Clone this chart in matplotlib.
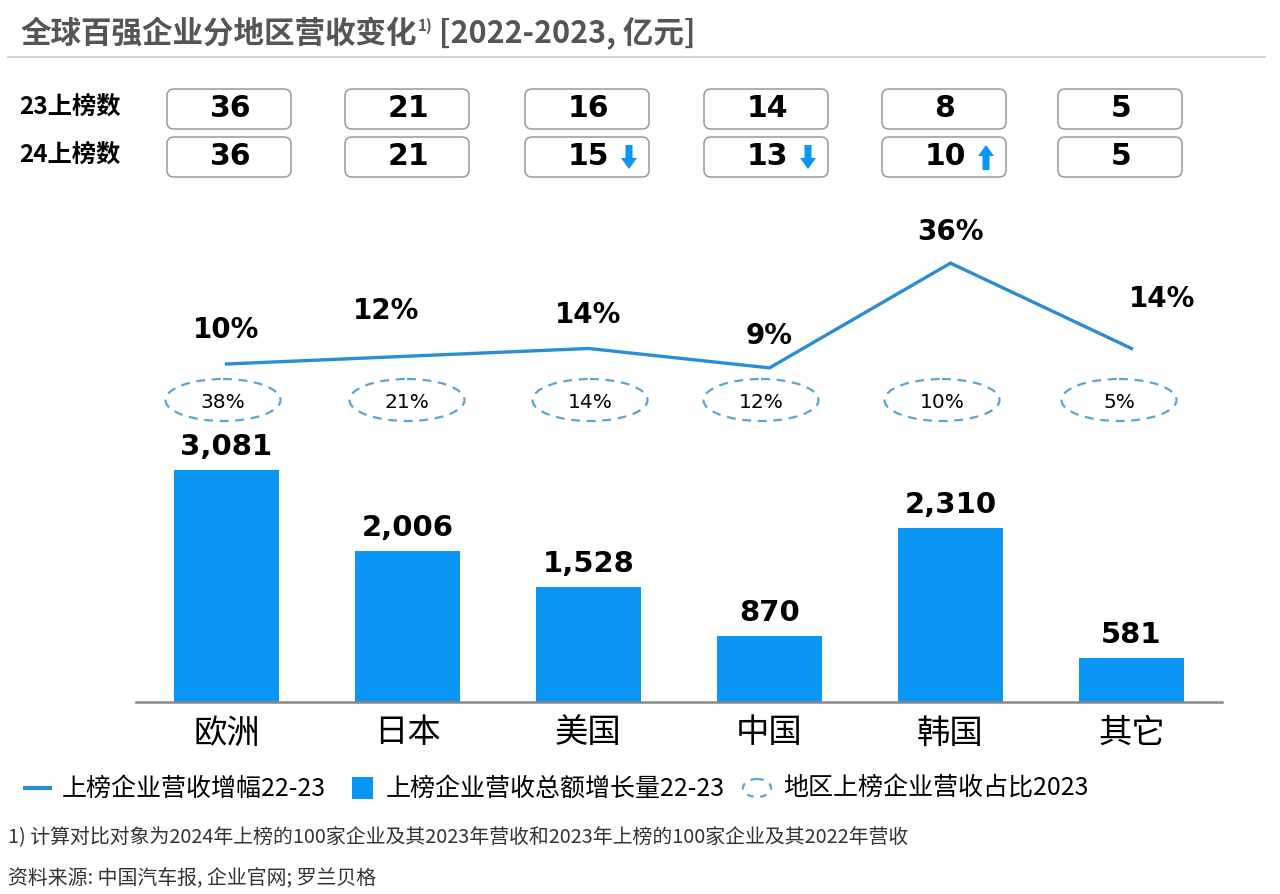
import matplotlib
matplotlib.use("Agg")
import matplotlib.pyplot as plt
from matplotlib.patches import Ellipse, FancyBboxPatch, FancyArrow, Rectangle

plt.rcParams['font.family'] = ['Noto Sans CJK SC', 'DejaVu Sans']

# data
regions = ['欧洲', '日本', '美国', '中国', '韩国', '其它']
listed_23 = [36, 21, 16, 14, 8, 5]
listed_24 = [36, 21, 15, 13, 10, 5]
growth_pct = [10, 12, 14, 9, 36, 14]
revenue_increase = [3081, 2006, 1528, 870, 2310, 581]
share_2023 = [38, 21, 14, 12, 10, 5]

bar_color = '#0A96F5'
line_color = '#2B8DD6'
dash_color = '#5AA6D3'
W, H = 1280, 895

fig = plt.figure(figsize=(12.8, 8.95), dpi=100)

# overlay axes in pixel units (y down)
ov = fig.add_axes([0, 0, 1, 1], zorder=0)
ov.set_xlim(0, W)
ov.set_ylim(H, 0)
ov.axis('off')

def fig_rect(x0, y0, x1, y1):
    return [x0 / W, (H - y1) / H, (x1 - x0) / W, (y1 - y0) / H]

# bars
ax = fig.add_axes(fig_rect(136, 420, 1222, 703), zorder=2)
ax.patch.set_alpha(0)
x = list(range(len(regions)))
bars = ax.bar(x, revenue_increase, width=0.585, color=bar_color)
ax.set_xlim(-0.5, 5.5)
ax.set_ylim(0, 3758)
for s in ['top', 'right', 'left']:
    ax.spines[s].set_visible(False)
ax.spines['bottom'].set_color('#888888')
ax.spines['bottom'].set_linewidth(1.8)
ax.set_yticks([])
ax.set_xticks(x)
ax.set_xticklabels(regions, fontsize=24)
ax.tick_params(axis='x', length=0, pad=9)
for xi, v in zip(x, revenue_increase):
    ax.annotate(f'{v:,}', (xi, v), xytext=(0, 10), textcoords='offset pixels',
                ha='center', va='bottom', fontsize=21, fontweight='bold',
                family='DejaVu Sans')

# growth line
lx = fig.add_axes(fig_rect(136, 200, 1222, 400), zorder=3)
lx.patch.set_alpha(0)
lx.axis('off')
lx.set_xlim(-0.5, 5.5)
lx.set_ylim(10 - 35 / 3.88, 10 + 165 / 3.88)
lx.plot(x, growth_pct, color=line_color, lw=2.4, solid_joinstyle='miter')
label_offsets = [(0, 35), (-21, 46), (0, 34), (0, 33), (0, 32), (31, 50)]
for xi, v, (dx, dy) in zip(x, growth_pct, label_offsets):
    lx.annotate(f'{v}%', (xi, v), xytext=(dx, dy), textcoords='offset pixels',
                ha='center', va='center', fontsize=20, fontweight='bold',
                family='DejaVu Sans')

# share ellipses
ell_x = [223, 407, 590, 761, 942, 1119]
for cx, s in zip(ell_x, share_2023):
    ov.add_patch(Ellipse((cx, 401), 115, 42, fill=False, edgecolor=dash_color,
                         lw=1.6, linestyle=(0, (4, 3))))
    ov.text(cx, 402, f'{s}%', ha='center', va='center', fontsize=14.5,
            family='DejaVu Sans')

# listing count boxes
box_x = [229, 407, 587, 766, 944, 1120]
for row_y, label, vals in [(110, '23上榜数', listed_23), (158, '24上榜数', listed_24)]:
    ov.text(19, row_y - 2, label, ha='left', va='center', fontsize=17.5,
            fontweight='bold')
    for i, (cx, v) in enumerate(zip(box_x, vals)):
        ov.add_patch(FancyBboxPatch((cx - 62, row_y - 20), 124, 40,
                                    boxstyle='round,pad=0,rounding_size=7',
                                    facecolor='white', edgecolor='#9a9a9a', lw=1.1))
        ov.text(cx + 1, row_y - 2, str(v), ha='center', va='center', fontsize=21.5,
                fontweight='bold', family='DejaVu Sans')
        if label.startswith('24'):
            diff = v - listed_23[i]
            ax_x = cx + 42
            if diff < 0:
                ov.add_patch(FancyArrow(ax_x, row_y - 12, 0, 24, width=7,
                                        head_width=16, head_length=11,
                                        length_includes_head=True,
                                        color=bar_color, lw=0))
            elif diff > 0:
                ov.add_patch(FancyArrow(ax_x, row_y + 13, 0, -25, width=7,
                                        head_width=16, head_length=11,
                                        length_includes_head=True,
                                        color=bar_color, lw=0))

# title
fig.canvas.draw()
r = fig.canvas.get_renderer()
t1 = ov.text(20, 34, '全球百强企业分地区营收变化', ha='left', va='center',
             fontsize=22, fontweight='bold', color='#555555')
bb = t1.get_window_extent(r)
t2 = ov.text(bb.x1 + 1, 26, '1)', ha='left', va='center', fontsize=11,
             fontweight='bold', color='#555555')
bb2 = t2.get_window_extent(r)
ov.text(bb2.x1, 34, ' [2022-2023, 亿元]', ha='left', va='center',
        fontsize=22, fontweight='bold', color='#555555')
ov.plot([8, 1265], [58, 58], color='#cdd7e6', lw=1.5)

# legend
ov.plot([25, 50], [789, 789], color=line_color, lw=3)
ov.text(62, 789, '上榜企业营收增幅22-23', ha='left', va='center', fontsize=18)
ov.add_patch(Rectangle((352, 778), 21, 22, color=bar_color, lw=0))
ov.text(386, 789, '上榜企业营收总额增长量22-23', ha='left', va='center', fontsize=18)
ov.add_patch(Ellipse((757, 789), 28, 18, fill=False, edgecolor=dash_color,
                     lw=1.6, linestyle=(0, (3, 3))))
ov.text(783, 789, '地区上榜企业营收占比2023', ha='left', va='center', fontsize=18)

# footnotes
ov.text(8, 838, '1) 计算对比对象为2024年上榜的100家企业及其2023年营收和2023年上榜的100家企业及其2022年营收',
        ha='left', va='center', fontsize=14.3, color='#333333')
ov.text(8, 878, '资料来源: 中国汽车报, 企业官网; 罗兰贝格', ha='left', va='center',
        fontsize=14.3, color='#333333')

fig.savefig('out.png', dpi=100, facecolor='white')
